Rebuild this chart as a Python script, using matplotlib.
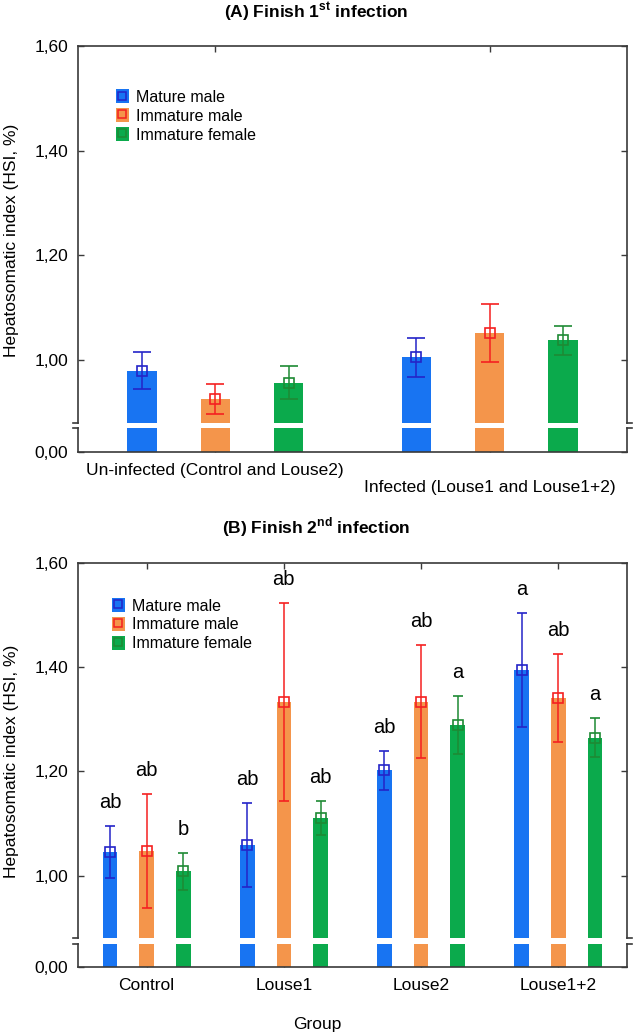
"""
Hepatosomatic index (HSI, %) after the first and second louse infection,
drawn as grouped bars with broken y axis (Statistica style).
"""

import matplotlib
matplotlib.use("Agg")
import matplotlib.pyplot as plt
from matplotlib.patches import Patch
from matplotlib.lines import Line2D
from matplotlib.legend_handler import HandlerTuple
import numpy as np

plt.rcParams["font.family"] = ["Liberation Sans", "DejaVu Sans"]
plt.rcParams["mathtext.fontset"] = "custom"
plt.rcParams["mathtext.rm"] = "Liberation Sans"
plt.rcParams["mathtext.bf"] = "Liberation Sans:bold"

# ---- data ----
series = ["Mature male", "Immature male", "Immature female"]

groups_a = ["Un-infected (Control and Louse2)", "Infected (Louse1 and Louse1+2)"]
mean_a = {
    "Mature male": [0.980, 1.005],
    "Immature male": [0.926, 1.052],
    "Immature female": [0.957, 1.038],
}
err_a = {
    "Mature male": [0.035, 0.038],
    "Immature male": [0.029, 0.055],
    "Immature female": [0.032, 0.028],
}

groups_b = ["Control", "Louse1", "Louse2", "Louse1+2"]
mean_b = {
    "Mature male": [1.045, 1.059, 1.202, 1.395],
    "Immature male": [1.047, 1.333, 1.334, 1.341],
    "Immature female": [1.008, 1.110, 1.289, 1.265],
}
err_b = {
    "Mature male": [0.050, 0.081, 0.038, 0.109],
    "Immature male": [0.109, 0.190, 0.109, 0.085],
    "Immature female": [0.035, 0.033, 0.055, 0.037],
}
letters_b = {
    "Mature male": ["ab", "ab", "ab", "a"],
    "Immature male": ["ab", "ab", "ab", "ab"],
    "Immature female": ["b", "ab", "a", "a"],
}

ytick_vals = [1.0, 1.2, 1.4, 1.6]
ytick_labels = ["1,00", "1,20", "1,40", "1,60"]

# ---- styling ----
bar_colors = {"Mature male": "#1874F2", "Immature male": "#F4954B", "Immature female": "#0BAA4C"}
err_colors = {"Mature male": "#2424C8", "Immature male": "#F52020", "Immature female": "#1E8A34"}
spine_col = "#3a3a3a"

Y_ZERO = 0.8245          # where 0,00 sits on the broken axis
GAP = (0.8695, 0.880)    # white break band
Y_TOP = 1.6
OFFSET = 0.267           # bar offset within a group (x units)
WIDTH = 0.107


def draw_panel(ax, groups, means, errs, capsize, legend_anchor):
    x = np.arange(1, len(groups) + 1)
    for i, s in enumerate(series):
        xs = x + (i - 1) * OFFSET
        m = np.array(means[s])
        ax.bar(xs, m - Y_ZERO, bottom=Y_ZERO, width=WIDTH,
               color=bar_colors[s], zorder=2)
        ax.errorbar(xs, m, yerr=errs[s], fmt="s", mfc="none",
                    mec=err_colors[s], ecolor=err_colors[s], ms=6.5, mew=1.2,
                    elinewidth=1.1, capsize=capsize, capthick=1.1, zorder=3)

    ax.axhspan(GAP[0], GAP[1], color="white", zorder=2.5, lw=0)
    ax.set_xlim(0.5, len(groups) + 0.5)
    ax.set_ylim(Y_ZERO, Y_TOP)
    ax.set_yticks([Y_ZERO] + ytick_vals)
    ax.set_yticklabels(["0,00"] + ytick_labels, fontsize=12.5)
    ax.set_xticks(x)
    ax.tick_params(direction="in", length=4, width=1, top=True, right=True,
                   color=spine_col)
    ax.tick_params(axis="y", pad=7)
    ax.tick_params(axis="x", pad=8, labelsize=12.5)

    # broken left / right spines
    for side in ("left", "right"):
        ax.spines[side].set_visible(False)
    for sp in ("top", "bottom"):
        ax.spines[sp].set_color(spine_col)
        ax.spines[sp].set_linewidth(1.2)
    tr = ax.get_yaxis_transform()
    for xpos, out in ((0, -0.009), (1, 0.009)):
        ax.plot([xpos, xpos], [Y_ZERO, GAP[0]], color=spine_col, lw=1.2,
                transform=tr, clip_on=False, zorder=5)
        ax.plot([xpos, xpos], [GAP[1], Y_TOP], color=spine_col, lw=1.2,
                transform=tr, clip_on=False, zorder=5)
        for yb in GAP:
            ax.plot([xpos, xpos + out], [yb, yb], color=spine_col, lw=1.2,
                    transform=tr, clip_on=False, zorder=5)

    ax.set_ylabel("Hepatosomatic index (HSI, %)", fontsize=12.5)

    handles = [(Patch(facecolor=bar_colors[s], lw=0),
                Line2D([], [], ls="none", marker="s", ms=5.5, mfc="none",
                       mec=err_colors[s], mew=1.1)) for s in series]
    ax.legend(handles, series, handler_map={tuple: HandlerTuple(ndivide=1, pad=0)},
              loc="upper left", bbox_to_anchor=legend_anchor, frameon=False,
              borderaxespad=0, borderpad=0, fontsize=11.5, handlelength=0.8,
              handleheight=0.95, handletextpad=0.45, labelspacing=0.22, numpoints=1)


fig = plt.figure(figsize=(6.33, 10.35), dpi=100)
ax_a = fig.add_axes([0.1232, 0.5633, 0.8673, 0.3923])
ax_b = fig.add_axes([0.1232, 0.0657, 0.8673, 0.3903])

draw_panel(ax_a, groups_a, mean_a, err_a, capsize=6.5, legend_anchor=(0.069, 0.893))
ax_a.set_xticklabels([groups_a[0], "\n" + groups_a[1]])

draw_panel(ax_b, groups_b, mean_b, err_b, capsize=3.5, legend_anchor=(0.062, 0.913))
ax_b.set_xticklabels(groups_b)

# significance letters in panel B
xb = np.arange(1, len(groups_b) + 1)
for i, s in enumerate(series):
    tops = np.array(mean_b[s]) + np.array(err_b[s])
    for xi, top, lab in zip(xb + (i - 1) * OFFSET, tops, letters_b[s]):
        ax_b.text(xi, top + 0.045, lab, ha="center", va="center", fontsize=14.5)

ax_a.yaxis.set_label_coords(-0.107, 0.52)
ax_b.yaxis.set_label_coords(-0.107, 0.51)

fig.text(0.5, 1 - 12 / 1035, r"(A) Finish 1$^{\mathbf{st}}$ infection",
         ha="center", va="center", fontsize=12.5, fontweight="bold")
fig.text(0.5, 1 - 527 / 1035, r"(B) Finish 2$^{\mathbf{nd}}$ infection",
         ha="center", va="center", fontsize=12.5, fontweight="bold")
fig.text(0.502, 1 - 1024 / 1035, "Group", ha="center", va="center", fontsize=12.5)

fig.savefig("out.png", dpi=100)
